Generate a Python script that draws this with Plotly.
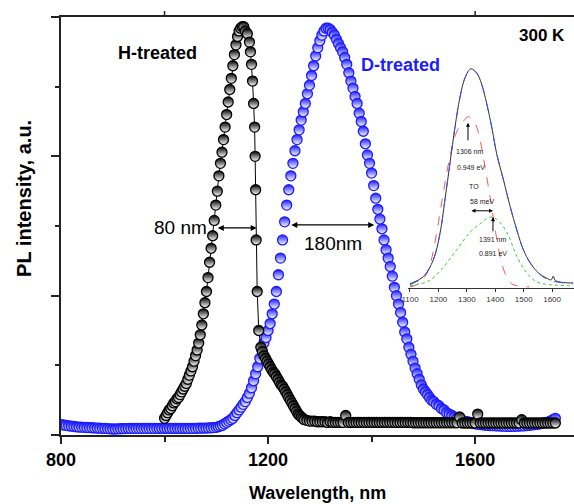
import plotly.graph_objects as go

# ---------------- main data ----------------
H_WAVELENGTH = [
    1000, 1003, 1006, 1009, 1012, 1015, 1018, 1021, 1024, 1027, 1030, 1033, 1036, 1039, 1042,
    1045, 1048, 1051, 1054, 1057, 1060, 1063, 1066, 1069, 1072, 1075, 1078, 1081, 1084, 1087,
    1090, 1093, 1096, 1099, 1102, 1105, 1108, 1111, 1114, 1117, 1120, 1123, 1126, 1129, 1132,
    1135, 1138, 1141, 1144, 1147, 1150, 1153, 1156,
    1160, 1164, 1166, 1168, 1170, 1172, 1174, 1175, 1176, 1177, 1179, 1182, 1186,
    1189, 1192, 1195, 1198, 1201, 1204, 1207, 1210, 1213, 1216, 1219, 1222, 1225, 1228, 1231,
    1234, 1237, 1240, 1243, 1246, 1249, 1252, 1255, 1258, 1261, 1264, 1267, 1270, 1275, 1280,
    1285, 1290, 1295, 1300, 1305, 1310, 1315, 1320, 1325, 1330, 1335, 1340, 1345, 1350, 1355,
    1360, 1365, 1370, 1375, 1380, 1385, 1390, 1395, 1400, 1405, 1410, 1415, 1420, 1425, 1430,
    1435, 1440, 1445, 1450, 1455, 1460, 1465, 1470, 1475, 1480, 1485, 1490, 1495, 1500, 1505,
    1510, 1515, 1520, 1525, 1530, 1535, 1540, 1545, 1550, 1555, 1560, 1565, 1570, 1575, 1580,
    1585, 1590, 1595, 1600, 1605, 1610, 1615, 1620, 1625, 1630, 1635, 1640, 1645, 1650, 1655,
    1660, 1665, 1670, 1675, 1680, 1685, 1690, 1695, 1700, 1705, 1710, 1715, 1720, 1725, 1730,
    1735, 1740, 1745, 1750, 1755,
]
H_INTENSITY = [
    0.12, 0.14, 0.16, 0.18, 0.19, 0.21, 0.23, 0.24, 0.26, 0.27, 0.29, 0.31, 0.33, 0.35, 0.37,
    0.40, 0.43, 0.46, 0.49, 0.53, 0.57, 0.61, 0.66, 0.72, 0.79, 0.87, 0.95, 1.03, 1.13, 1.24,
    1.34, 1.43, 1.54, 1.65, 1.75, 1.86, 1.95, 2.03, 2.12, 2.21, 2.30, 2.39, 2.48, 2.56, 2.65,
    2.73, 2.80, 2.86, 2.90, 2.92, 2.93, 2.93, 2.90,
    2.88, 2.82, 2.75, 2.66, 2.54, 2.38, 2.21, 2.00, 1.76, 1.40, 1.03, 0.75, 0.63,
    0.60, 0.57, 0.55, 0.53, 0.51, 0.49, 0.47, 0.45, 0.44, 0.42, 0.40, 0.38, 0.36, 0.35, 0.33,
    0.31, 0.29, 0.27, 0.25, 0.23, 0.21, 0.19, 0.17, 0.15, 0.14, 0.13, 0.12, 0.11, 0.105, 0.10,
    0.10, 0.10, 0.095, 0.095, 0.095, 0.095, 0.09, 0.095, 0.09, 0.09, 0.09, 0.09, 0.09, 0.14, 0.09,
    0.09, 0.09, 0.09, 0.09, 0.09, 0.09, 0.09, 0.09, 0.09, 0.09, 0.09, 0.09, 0.09, 0.09, 0.09,
    0.09, 0.09, 0.09, 0.09, 0.09, 0.09, 0.09, 0.09, 0.09, 0.088, 0.088, 0.088, 0.088, 0.088, 0.088,
    0.088, 0.088, 0.088, 0.088, 0.088, 0.088, 0.088, 0.088, 0.088, 0.088, 0.088, 0.088, 0.13, 0.086, 0.086,
    0.086, 0.086, 0.086, 0.086, 0.15, 0.086, 0.086, 0.086, 0.086, 0.086, 0.086, 0.086, 0.086, 0.086, 0.086,
    0.086, 0.086, 0.086, 0.086, 0.086, 0.086, 0.11, 0.086, 0.086, 0.086, 0.086, 0.086, 0.086, 0.086, 0.086,
    0.086, 0.086, 0.086, 0.086, 0.086,
]

D_WAVELENGTH = [
    800, 805, 810, 815, 820, 825, 830, 835, 840, 845, 850, 855, 860, 865, 870,
    875, 880, 885, 890, 895, 900, 905, 910, 915, 920, 925, 930, 935, 940, 945,
    950, 955, 960, 965, 970, 975, 980, 985, 990, 995, 1000, 1005, 1010, 1015, 1020,
    1025, 1030, 1035, 1040, 1045, 1050, 1055, 1060, 1065, 1070, 1075, 1080, 1085, 1090, 1095,
    1100, 1104, 1108, 1112, 1116, 1120, 1124, 1128, 1132, 1136, 1140, 1144, 1148, 1152, 1156,
    1160, 1164, 1168, 1172, 1176, 1180, 1184, 1188, 1192, 1196, 1200, 1204, 1208, 1212, 1216,
    1220, 1224, 1228, 1232, 1236, 1240, 1244, 1248, 1252, 1256, 1260, 1264, 1268, 1272, 1276,
    1280, 1284, 1288, 1292, 1296, 1300, 1304, 1308, 1312, 1316, 1320, 1324, 1328, 1332, 1336,
    1340, 1344, 1348, 1352, 1356, 1360, 1364, 1368, 1372, 1376, 1380, 1384, 1388, 1392, 1396,
    1400, 1404, 1408, 1412, 1416, 1420, 1424, 1428, 1432, 1436, 1440, 1444, 1448, 1452, 1456,
    1460, 1464, 1468, 1472, 1476, 1480, 1484, 1488, 1492, 1496, 1500, 1504, 1508, 1512, 1516,
    1520,
    1525, 1530, 1535, 1540, 1545, 1550, 1555, 1560, 1565, 1570, 1575, 1580, 1585, 1590, 1595,
    1600, 1605, 1610, 1615, 1620, 1625, 1630, 1635, 1640, 1645, 1650, 1655, 1660, 1665, 1670,
    1675, 1680, 1685, 1690, 1695, 1700, 1705, 1710, 1715, 1720, 1725, 1730, 1735, 1740, 1745,
    1750, 1755,
]
D_INTENSITY = [
    0.075, 0.072, 0.069, 0.066, 0.063, 0.061, 0.059, 0.057, 0.056, 0.055, 0.054, 0.053, 0.052, 0.051, 0.050,
    0.049, 0.048, 0.047, 0.046, 0.044, 0.043, 0.043, 0.044, 0.045, 0.046, 0.046, 0.047, 0.047, 0.048, 0.048,
    0.048, 0.048, 0.048, 0.048, 0.048, 0.048, 0.048, 0.048, 0.047, 0.047, 0.047, 0.047, 0.047, 0.047, 0.047,
    0.047, 0.047, 0.047, 0.047, 0.047, 0.048, 0.048, 0.048, 0.049, 0.049, 0.050, 0.050, 0.051, 0.052, 0.053,
    0.055, 0.06, 0.065, 0.07, 0.08, 0.09, 0.10, 0.11, 0.12, 0.14, 0.16, 0.18, 0.20, 0.22, 0.24,
    0.27, 0.30, 0.34, 0.39, 0.44, 0.49, 0.55, 0.61, 0.66, 0.70, 0.75, 0.80, 0.87, 0.94, 1.03,
    1.15, 1.27, 1.40, 1.53, 1.65, 1.76, 1.86, 1.95, 2.04, 2.12, 2.19, 2.26, 2.32, 2.38, 2.45,
    2.51, 2.58, 2.65, 2.72, 2.78, 2.83, 2.87, 2.90, 2.92, 2.92, 2.91, 2.89, 2.87, 2.84, 2.81,
    2.78, 2.75, 2.71, 2.66, 2.60, 2.54, 2.49, 2.43, 2.38, 2.31, 2.25, 2.18, 2.09, 2.01, 1.95,
    1.88, 1.79, 1.70, 1.62, 1.55, 1.48, 1.40, 1.33, 1.27, 1.21, 1.14, 1.06, 1.00, 0.94, 0.88,
    0.81, 0.74, 0.69, 0.63, 0.58, 0.53, 0.48, 0.44, 0.40, 0.36, 0.33, 0.31, 0.29, 0.27, 0.25,
    0.24,
    0.22, 0.21, 0.19, 0.18, 0.16, 0.15, 0.14, 0.13, 0.12, 0.11, 0.105, 0.10, 0.095, 0.09, 0.085,
    0.08, 0.078, 0.075, 0.073, 0.07, 0.069, 0.068, 0.067, 0.066, 0.065, 0.064, 0.063, 0.062, 0.062, 0.062,
    0.062, 0.063, 0.064, 0.065, 0.066, 0.068, 0.07, 0.072, 0.074, 0.077, 0.08, 0.084, 0.088, 0.093, 0.10,
    0.11, 0.12,
]

X_TICKS = [800, 1200, 1600]
X_MINOR = [1000, 1400]
X_TOP_TICKS = [1000, 1600]
Y_TICKS = [0, 1, 2, 3]
Y_MINOR = [0.5, 1.5, 2.5]

# ---------------- inset data ----------------
INSET_WL = [1100, 1147, 1182, 1206, 1223, 1241, 1258, 1276, 1294, 1314, 1335, 1352, 1370,
            1388, 1405, 1429, 1452, 1476, 1499, 1523, 1552, 1581, 1597, 1604, 1611, 1639, 1674]
INSET_MEASURED = [0.014, 0.047, 0.124, 0.248, 0.40, 0.57, 0.73, 0.87, 0.96, 1.0, 0.98, 0.93, 0.84,
                  0.73, 0.61, 0.49, 0.37, 0.26, 0.17, 0.11, 0.064, 0.04, 0.032, 0.05, 0.03, 0.02, 0.018]
INSET_FIT = [0.010, 0.045, 0.124, 0.248, 0.40, 0.57, 0.73, 0.87, 0.96, 1.0, 0.98, 0.93, 0.84,
             0.73, 0.61, 0.49, 0.37, 0.26, 0.17, 0.11, 0.064, 0.035, 0.028, 0.026, 0.024, 0.018, 0.014]
RED_WL = [1100, 1123, 1147, 1170, 1194, 1217, 1241, 1264, 1288, 1306, 1329, 1347, 1364, 1382,
          1400, 1417, 1435, 1452, 1476, 1520]
RED_I = [0.0, 0.01, 0.035, 0.10, 0.25, 0.43, 0.60, 0.71, 0.76, 0.78, 0.75, 0.67, 0.55, 0.41,
         0.26, 0.14, 0.06, 0.02, 0.005, 0.0]
GREEN_WL = [1100, 1123, 1170, 1217, 1264, 1311, 1347, 1382, 1405, 1441, 1476, 1511, 1546, 1593, 1674]
GREEN_I = [0.005, 0.01, 0.03, 0.09, 0.17, 0.25, 0.29, 0.32, 0.31, 0.25, 0.14, 0.064, 0.023, 0.01, 0.005]
INSET_TICKS = [1100, 1200, 1300, 1400, 1500, 1600]

BLUE = "#1c1cff"
AXC = "#222222"
FONT = "Liberation Sans, Arial, sans-serif"
SMALL = "Liberation Sans Narrow, Arial Narrow, Liberation Sans, sans-serif"

fig = go.Figure()

fig.add_trace(go.Scatter(
    x=D_WAVELENGTH, y=D_INTENSITY, mode="markers",
    marker=dict(symbol="circle", size=10, color=BLUE,
                line=dict(color=BLUE, width=1.3),
                gradient=dict(type="vertical", color="white")),
    showlegend=False, hoverinfo="skip"))

fig.add_trace(go.Scatter(
    x=H_WAVELENGTH, y=H_INTENSITY, mode="lines+markers",
    line=dict(color="black", width=1),
    marker=dict(symbol="circle", size=10, color="black",
                line=dict(color="black", width=1.3),
                gradient=dict(type="vertical", color="white")),
    showlegend=False, hoverinfo="skip"))

# inset curves
fig.add_trace(go.Scatter(x=RED_WL, y=RED_I, xaxis="x2", yaxis="y2", mode="lines",
                         line=dict(color="#ff5555", width=1, dash="dash", shape="spline"),
                         showlegend=False, hoverinfo="skip"))
fig.add_trace(go.Scatter(x=GREEN_WL, y=GREEN_I, xaxis="x2", yaxis="y2", mode="lines",
                         line=dict(color="#33cc33", width=1, dash="dot", shape="spline"),
                         showlegend=False, hoverinfo="skip"))
fig.add_trace(go.Scatter(x=INSET_WL, y=INSET_MEASURED, xaxis="x2", yaxis="y2", mode="lines",
                         line=dict(color="#333333", width=1, shape="spline"),
                         showlegend=False, hoverinfo="skip"))
fig.add_trace(go.Scatter(x=INSET_WL, y=INSET_FIT, xaxis="x2", yaxis="y2", mode="lines",
                         line=dict(color="#3355ff", width=1, dash="dash", shape="spline"),
                         showlegend=False, hoverinfo="skip"))

small_font = dict(family=SMALL, size=7, color="#222")
annotations = [
    dict(x=986, y=2.742, xref="x", yref="y", text="H-treated", showarrow=False,
         font=dict(family=FONT, size=18, color="black", weight="bold")),
    dict(x=1456, y=2.656, xref="x", yref="y", text="D-treated", showarrow=False,
         font=dict(family=FONT, size=18, color=BLUE, weight="bold")),
    dict(x=1730, y=2.864, xref="x", yref="y", text="300 K", showarrow=False,
         font=dict(family=FONT, size=17, color="black", weight="bold")),
    dict(x=1031, y=1.486, xref="x", yref="y", text="80 nm", showarrow=False,
         font=dict(family=FONT, size=19, color="black")),
    dict(x=1325, y=1.378, xref="x", yref="y", text="180nm", showarrow=False,
         font=dict(family=FONT, size=19, color="black")),
    # double arrows
    dict(x=1178, y=1.486, ax=1100, ay=1.486, xref="x", yref="y", axref="x", ayref="y",
         text="", showarrow=True, arrowside="end+start", arrowhead=2, startarrowhead=2,
         arrowsize=1, startarrowsize=1, arrowwidth=1.2, arrowcolor="black"),
    dict(x=1405, y=1.508, ax=1242, ay=1.508, xref="x", yref="y", axref="x", ayref="y",
         text="", showarrow=True, arrowside="end+start", arrowhead=2, startarrowhead=2,
         arrowsize=1, startarrowsize=1, arrowwidth=1.2, arrowcolor="black"),
    # axis titles
    dict(x=0.5, y=-0.139, xref="paper", yref="paper", text="Wavelength, nm", showarrow=False,
         font=dict(family=FONT, size=18, color="black", weight="bold"), yanchor="middle"),
    dict(x=-0.072, y=0.565, xref="paper", yref="paper", text="PL intensity, a.u.", showarrow=False,
         textangle=-90, font=dict(family=FONT, size=20, color="black", weight="bold"),
         xanchor="center", yanchor="middle"),
    # inset annotations
    dict(x=1310, y=0.619, xref="x2", yref="y2", text="1306 nm", showarrow=False, font=small_font),
    dict(x=1315, y=0.546, xref="x2", yref="y2", text="0.949 eV", showarrow=False, font=small_font),
    dict(x=1325, y=0.459, xref="x2", yref="y2", text="TO", showarrow=False, font=small_font),
    dict(x=1353, y=0.39, xref="x2", yref="y2", text="58 meV", showarrow=False, font=small_font),
    dict(x=1392, y=0.216, xref="x2", yref="y2", text="1391 nm", showarrow=False, font=small_font),
    dict(x=1392, y=0.151, xref="x2", yref="y2", text="0.891 eV", showarrow=False, font=small_font),
    dict(x=1392, y=0.349, ax=1311, ay=0.349, xref="x2", yref="y2", axref="x2", ayref="y2",
         text="", showarrow=True, arrowside="end+start", arrowhead=2, startarrowhead=2,
         arrowsize=0.8, startarrowsize=0.8, arrowwidth=1, arrowcolor="black"),
    dict(x=1304, y=0.752, ax=1304, ay=0.665, xref="x2", yref="y2", axref="x2", ayref="y2",
         text="", showarrow=True, arrowhead=2, arrowsize=0.8, arrowwidth=1, arrowcolor="black"),
    dict(x=1392, y=0.321, ax=1392, ay=0.248, xref="x2", yref="y2", axref="x2", ayref="y2",
         text="", showarrow=True, arrowhead=2, arrowsize=0.8, arrowwidth=1, arrowcolor="black"),
]

shapes = [dict(type="line", xref="x", yref="paper", x0=t, x1=t, y0=1.0, y1=1.0 + 6 / 418,
               line=dict(color=AXC, width=1.5)) for t in X_TOP_TICKS]

fig.update_layout(
    width=574, height=504,
    margin=dict(l=61, r=0, t=17, b=69, autoexpand=False),
    paper_bgcolor="white", plot_bgcolor="white",
    showlegend=False,
    xaxis=dict(range=[800, 1791], showline=True, linecolor=AXC, linewidth=2, mirror=True,
               ticks="outside", tickvals=X_TICKS, ticklen=7, tickwidth=2, tickcolor=AXC,
               minor=dict(tickvals=X_MINOR, ticks="outside", ticklen=5, tickwidth=2, tickcolor=AXC),
               showgrid=False, zeroline=False, automargin=False,
               tickfont=dict(family=FONT, size=18, color="black", weight="bold")),
    yaxis=dict(range=[0, 3], showline=True, linecolor=AXC, linewidth=2, mirror=False,
               ticks="outside", tickvals=Y_TICKS, ticklen=8, tickwidth=2, tickcolor=AXC,
               minor=dict(tickvals=Y_MINOR, ticks="outside", ticklen=4, tickwidth=2, tickcolor=AXC),
               showticklabels=False, showgrid=False, zeroline=False, automargin=False),
    xaxis2=dict(domain=[0.6764, 1.0], anchor="y2", range=[1093, 1677], showline=True,
                linecolor="#333", linewidth=1, ticks="outside", ticklen=3, tickwidth=1,
                tickcolor="#333", tickvals=INSET_TICKS, showgrid=False, zeroline=False,
                tickfont=dict(family=SMALL, size=8, color="#333")),
    yaxis2=dict(domain=[0.3517, 0.897], anchor="x2", range=[-0.005, 1.04], visible=False),
    annotations=annotations,
    shapes=shapes,
)

fig.write_html(
    "out.html",
    config={"displayModeBar": False, "staticPlot": True},
    post_script="document.body.style.margin='0';document.body.style.padding='0';",
)
